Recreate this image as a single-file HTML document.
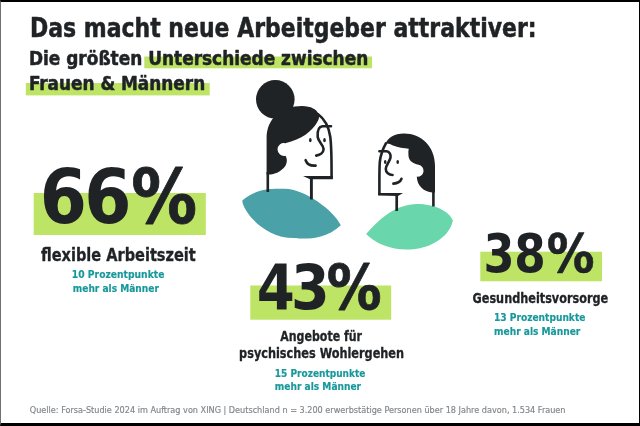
<!DOCTYPE html>
<html lang="de"><head><meta charset="utf-8"><title>Das macht neue Arbeitgeber attraktiver</title>
<style>
html,body{margin:0;padding:0;background:#fff;}
body{width:640px;height:426px;position:relative;overflow:hidden;}
.frame{position:absolute;left:0;top:0;width:640px;height:426px;box-sizing:border-box;border-top:2px solid #000;border-right:1px solid #000;border-bottom:3px solid #000;border-left:1px solid #707070;pointer-events:none;}
</style></head><body>
<svg width="640" height="426" viewBox="0 0 640 426" style="position:absolute;left:0;top:0">
<rect x="0" y="0" width="640" height="426" fill="#ffffff"/>
<rect x="144.3" y="56.5" width="227.7" height="11.8" fill="#bde464"/>
<rect x="25.8" y="83" width="183.9" height="12.4" fill="#bde464"/>
<rect x="33.7" y="193" width="172.1" height="42" fill="#bde464"/>
<rect x="250.3" y="285.5" width="140.9" height="34.2" fill="#bde464"/>
<rect x="480.3" y="251.7" width="121.7" height="29.6" fill="#bde464"/>
<path d="M242.3 200.4 C258.5 187.1, 272.9 188.7, 285.0 188.7 C304.4 188.7, 334.2 210.7, 340.8 225.2 C322.3 242.9, 296.1 238.0, 293.9 238.0 C262.4 238.0, 242.3 209.5, 242.3 200.4 Z" fill="#4ba1a8"/>
<path d="M366.1 234.0 C379.5 218, 397 204, 417 203.9 C434 203.9, 448.5 210.5, 452.9 220.5 C449 238.5, 428 249.6, 407 249.6 C390 249.6, 375 243, 366.1 234.0 Z" fill="#6ad6ab"/>
<g id="bigw">
<circle cx="275.3" cy="99.3" r="19.3" fill="#1f2325"/>
<path d="M266.6 174.6 L266.6 138 C266.6 118, 282 106, 302 106 C311 106, 317 109.5, 318.8 114.5 C319.6 117.5, 318.6 120, 317 122.5 C312 131, 302 139.5, 285.2 143.2 A6.4 6.4 0 1 0 285.4 155.7 C287.5 158.5, 287.3 163, 285 166.5 C281 171.5, 275 174.6, 268.5 174.6 Z" fill="#1f2325"/>
<path d="M317.8 114 C324 118.5, 328.8 126, 330.3 137 C331.1 144, 331.4 152, 331.5 162 L331.6 177.4" fill="none" stroke="#1f2325" stroke-width="2.6" stroke-linecap="round" stroke-linejoin="round"/>
<path d="M303 175.9 L332.9 175.9 L332.9 179.2 L310 179.3 Z" fill="#1f2325"/>
<path d="M311.4 178 L311.4 199.5" fill="none" stroke="#1f2325" stroke-width="2.9"/>
<path d="M267.8 172 L267.8 192" fill="none" stroke="#1f2325" stroke-width="2.6" stroke-linecap="butt"/>
<path d="M331 126.3 L322.5 126.3 C318.5 126.8, 317.3 132, 317.7 137 C318.3 142, 323.6 145, 323.6 149 C323.6 152.5, 320 155, 316.2 155.6" fill="none" stroke="#1f2325" stroke-width="2.6" stroke-linecap="round" stroke-linejoin="round"/>
<ellipse cx="310.3" cy="140.2" rx="1.3" ry="2.1" fill="#1f2325"/>
<ellipse cx="324.5" cy="140.2" rx="1.3" ry="2.1" fill="#1f2325"/>
<path d="M305.6 160.2 C307 164, 311 166, 315.6 165.6" fill="none" stroke="#1f2325" stroke-width="2.6" stroke-linecap="round" stroke-linejoin="round"/>
</g>
<g id="smallw">
<path d="M385.8 143.6 C387.5 138, 394 133.5, 404 133.5 C421 133.5, 435 146, 435 166 L435 192.5 L432.5 192.5 C424 192, 417 186, 416.8 176.6 A5.9 5.9 0 0 0 418.5 164.8 C413 163.5, 409 161, 408.5 156 C408.2 152, 408.5 150, 408.8 148.8 C404 147.9, 398 147.6, 393 145.4 C390.5 144.2, 388 143.1, 385.8 143.6 Z" fill="#1f2325"/>
<path d="M385.9 143.4 C383.4 148, 380.6 154, 379.8 162 C379.4 168, 379.4 175, 379.4 180 L379.4 194" fill="none" stroke="#1f2325" stroke-width="2.6" stroke-linecap="round" stroke-linejoin="round"/>
<path d="M378.1 192.9 L403 192.9 L398 196 L378.1 195.6 Z" fill="#1f2325"/>
<path d="M396.7 195 L396.7 211" fill="none" stroke="#1f2325" stroke-width="2.7"/>
<path d="M433.4 190 L433.4 206.5" fill="none" stroke="#1f2325" stroke-width="2.6" stroke-linecap="butt"/>
<path d="M379.4 151.3 L386.5 151.3 C389.5 151.5, 391 154.5, 390.5 157.5 C390 161, 386 165, 385.8 168.8 C385.6 172.5, 389 175, 392.5 175" fill="none" stroke="#1f2325" stroke-width="2.6" stroke-linecap="round" stroke-linejoin="round"/>
<ellipse cx="385.2" cy="162" rx="1.3" ry="2.1" fill="#1f2325"/>
<ellipse cx="397.7" cy="162" rx="1.3" ry="2.1" fill="#1f2325"/>
<path d="M393.4 183.6 C397.5 183.4, 400.5 181.5, 401.5 178.8" fill="none" stroke="#1f2325" stroke-width="2.6" stroke-linecap="round" stroke-linejoin="round"/>
</g>
<text id="t1" x="29.95" y="37" font-family="'DejaVu Sans Condensed', 'DejaVu Sans', 'Liberation Sans', sans-serif" font-size="26" font-weight="700" fill="#1f2325" stroke="#1f2325" stroke-width="0.5" stroke-linejoin="round" textLength="506.62" lengthAdjust="spacingAndGlyphs">Das macht neue Arbeitgeber attraktiver:</text>
<text id="t2" x="28.91" y="64.7" font-family="'DejaVu Sans Condensed', 'DejaVu Sans', 'Liberation Sans', sans-serif" font-size="19.3" font-weight="700" fill="#1f2325" stroke="#1f2325" stroke-width="0.5" stroke-linejoin="round" textLength="339.39" lengthAdjust="spacingAndGlyphs">Die größten Unterschiede zwischen</text>
<text id="t3" x="28.88" y="90.3" font-family="'DejaVu Sans Condensed', 'DejaVu Sans', 'Liberation Sans', sans-serif" font-size="19.3" font-weight="700" fill="#1f2325" stroke="#1f2325" stroke-width="0.5" stroke-linejoin="round" textLength="176.3" lengthAdjust="spacingAndGlyphs">Frauen &amp; Männern</text>
<text id="n1" y="222.8" font-family="'DejaVu Sans Condensed', 'DejaVu Sans', 'Liberation Sans', sans-serif" font-size="75.3" font-weight="700" fill="#1f2325"><tspan id="n1a" x="39.68" textLength="47.19" lengthAdjust="spacingAndGlyphs">6</tspan><tspan id="n1b" x="84.24" textLength="47.23" lengthAdjust="spacingAndGlyphs">6</tspan><tspan id="n1c" x="131.31" font-family="'DejaVu Sans', 'Liberation Sans', sans-serif" font-size="75.3" stroke="#1f2325" stroke-width="0.9" stroke-linejoin="round" textLength="65.77" lengthAdjust="spacingAndGlyphs">%</tspan></text>
<text id="l1" x="40.88" y="260.8" font-family="'DejaVu Sans Condensed', 'DejaVu Sans', 'Liberation Sans', sans-serif" font-size="17" font-weight="700" fill="#1f2325" stroke="#1f2325" stroke-width="0.3" stroke-linejoin="round" textLength="154.92" lengthAdjust="spacingAndGlyphs">flexible Arbeitszeit</text>
<text id="s1a" x="71.86" y="278" font-family="'DejaVu Sans Condensed', 'DejaVu Sans', 'Liberation Sans', sans-serif" font-size="9.7" font-weight="700" fill="#17989b" stroke="#17989b" stroke-width="0.15" stroke-linejoin="round" textLength="92.54" lengthAdjust="spacingAndGlyphs">10 Prozentpunkte</text>
<text id="s1b" x="72.82" y="291.5" font-family="'DejaVu Sans Condensed', 'DejaVu Sans', 'Liberation Sans', sans-serif" font-size="9.7" font-weight="700" fill="#17989b" stroke="#17989b" stroke-width="0.15" stroke-linejoin="round" textLength="86.07" lengthAdjust="spacingAndGlyphs">mehr als Männer</text>
<text id="n2" y="309.3" font-family="'DejaVu Sans Condensed', 'DejaVu Sans', 'Liberation Sans', sans-serif" font-size="62.3" font-weight="700" fill="#1f2325"><tspan id="n2a" x="256.71" textLength="38.04" lengthAdjust="spacingAndGlyphs">4</tspan><tspan id="n2b" x="291.12" textLength="38.71" lengthAdjust="spacingAndGlyphs">3</tspan><tspan id="n2c" x="326.75" font-family="'DejaVu Sans', 'Liberation Sans', sans-serif" font-size="62.3" stroke="#1f2325" stroke-width="0.75" stroke-linejoin="round" textLength="54.86" lengthAdjust="spacingAndGlyphs">%</tspan></text>
<text id="l2a" x="280.27" y="340.8" font-family="'DejaVu Sans Condensed', 'DejaVu Sans', 'Liberation Sans', sans-serif" font-size="13.2" font-weight="700" fill="#1f2325" stroke="#1f2325" stroke-width="0.3" stroke-linejoin="round" textLength="81.71" lengthAdjust="spacingAndGlyphs">Angebote für</text>
<text id="l2b" x="239.08" y="357.5" font-family="'DejaVu Sans Condensed', 'DejaVu Sans', 'Liberation Sans', sans-serif" font-size="13.2" font-weight="700" fill="#1f2325" stroke="#1f2325" stroke-width="0.3" stroke-linejoin="round" textLength="164.98" lengthAdjust="spacingAndGlyphs">psychisches Wohlergehen</text>
<text id="s2a" x="274.84" y="376.9" font-family="'DejaVu Sans Condensed', 'DejaVu Sans', 'Liberation Sans', sans-serif" font-size="9.7" font-weight="700" fill="#17989b" stroke="#17989b" stroke-width="0.15" stroke-linejoin="round" textLength="90.53" lengthAdjust="spacingAndGlyphs">15 Prozentpunkte</text>
<text id="s2b" x="274.86" y="390.3" font-family="'DejaVu Sans Condensed', 'DejaVu Sans', 'Liberation Sans', sans-serif" font-size="9.7" font-weight="700" fill="#17989b" stroke="#17989b" stroke-width="0.15" stroke-linejoin="round" textLength="86.24" lengthAdjust="spacingAndGlyphs">mehr als Männer</text>
<text id="n3" y="272.4" font-family="'DejaVu Sans Condensed', 'DejaVu Sans', 'Liberation Sans', sans-serif" font-size="52.5" font-weight="700" fill="#1f2325"><tspan id="n3a" x="483.39" textLength="31.02" lengthAdjust="spacingAndGlyphs">3</tspan><tspan id="n3b" x="514.16" textLength="31.53" lengthAdjust="spacingAndGlyphs">8</tspan><tspan id="n3c" x="546.84" font-family="'DejaVu Sans', 'Liberation Sans', sans-serif" font-size="52.5" stroke="#1f2325" stroke-width="0.63" stroke-linejoin="round" textLength="47.77" lengthAdjust="spacingAndGlyphs">%</tspan></text>
<text id="l3" x="472.54" y="303.3" font-family="'DejaVu Sans Condensed', 'DejaVu Sans', 'Liberation Sans', sans-serif" font-size="13.2" font-weight="700" fill="#1f2325" stroke="#1f2325" stroke-width="0.3" stroke-linejoin="round" textLength="135.66" lengthAdjust="spacingAndGlyphs">Gesundheitsvorsorge</text>
<text id="s3a" x="494" y="321.1" font-family="'DejaVu Sans Condensed', 'DejaVu Sans', 'Liberation Sans', sans-serif" font-size="9.7" font-weight="700" fill="#17989b" stroke="#17989b" stroke-width="0.15" stroke-linejoin="round" textLength="91.41" lengthAdjust="spacingAndGlyphs">13 Prozentpunkte</text>
<text id="s3b" x="494.05" y="334.8" font-family="'DejaVu Sans Condensed', 'DejaVu Sans', 'Liberation Sans', sans-serif" font-size="9.7" font-weight="700" fill="#17989b" stroke="#17989b" stroke-width="0.15" stroke-linejoin="round" textLength="86.25" lengthAdjust="spacingAndGlyphs">mehr als Männer</text>
<text id="src" x="29.76" y="412.9" font-family="'DejaVu Sans Condensed', 'DejaVu Sans', 'Liberation Sans', sans-serif" font-size="8.4" font-weight="400" fill="#80868b" stroke="#80868b" stroke-width="0.15" stroke-linejoin="round" textLength="535.77" lengthAdjust="spacingAndGlyphs">Quelle: Forsa-Studie 2024 im Auftrag von XING | Deutschland n = 3.200 erwerbstätige Personen über 18 Jahre davon, 1.534 Frauen</text>
</svg>
<div class="frame"></div>
</body></html>
